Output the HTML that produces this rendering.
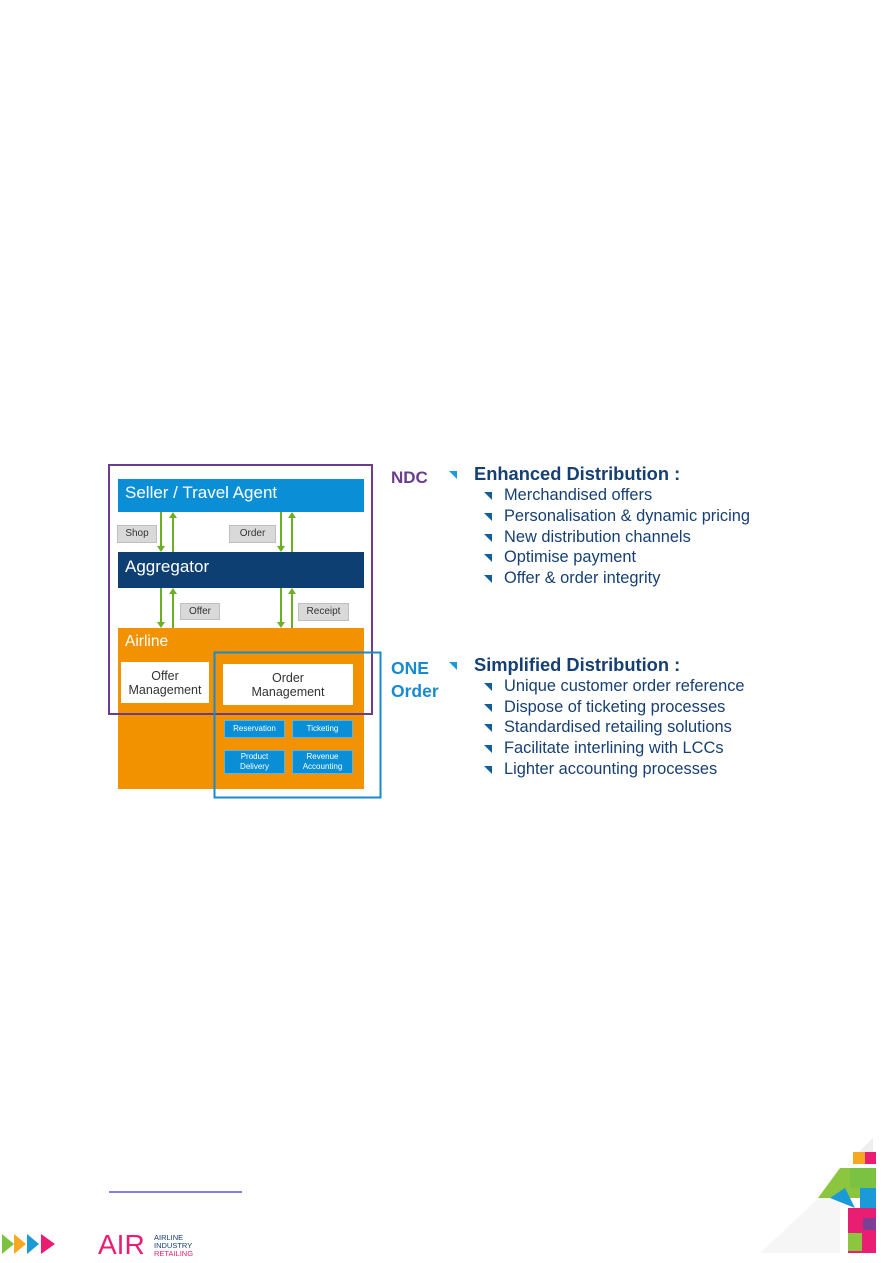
<!DOCTYPE html>
<html><head><meta charset="utf-8"><style>
body{margin:0;width:893px;height:1263px;background:#fff;position:relative;overflow:hidden;font-family:"Liberation Sans",Arial,sans-serif}
.a{position:absolute}
.bar{position:absolute;color:#fff;font-size:17px;box-sizing:border-box;padding-left:7px}
.lbl{position:absolute;background:#d9d9d9;border:1px solid #bfbfbf;font-size:10px;color:#333;text-align:center;box-sizing:border-box;line-height:15px}
.wb{position:absolute;background:#fff;color:#333;font-size:12.5px;text-align:center;display:flex;align-items:center;justify-content:center;line-height:14px}
.sb{position:absolute;background:#0a8ed5;color:#fff;font-size:8px;text-align:center;display:flex;align-items:center;justify-content:center;line-height:10px;border:1px solid #5fb3e3;box-sizing:border-box}
.t{position:absolute;color:#163f73;font-size:16.4px;white-space:nowrap}
.h{font-weight:bold;font-size:18.3px}
.tri{position:absolute;width:0;height:0;border-top:8px solid #0f5f9e;border-left:8px solid transparent}
.tri.l{border-top-color:#1a9ad6}
</style></head><body>
<div class="bar" style="left:118px;top:479px;width:246px;height:33px;background:#0a8fd6;line-height:28px">Seller / Travel Agent</div>
<div class="bar" style="left:118px;top:552px;width:246px;height:36px;background:#0d3f73;line-height:30px">Aggregator</div>
<div class="bar" style="left:118px;top:628px;width:246px;height:161px;background:#f39200;line-height:28px;font-size:15.5px">Airline</div>
<div class="wb" style="left:121px;top:662px;width:88px;height:41px">Offer<br>Management</div>
<div class="wb" style="left:223px;top:664px;width:130px;height:41px">Order<br>Management</div>
<div class="sb" style="left:224px;top:720px;width:61px;height:18px">Reservation</div>
<div class="sb" style="left:292px;top:720px;width:61px;height:18px">Ticketing</div>
<div class="sb" style="left:224px;top:750px;width:61px;height:24px">Product<br>Delivery</div>
<div class="sb" style="left:292px;top:750px;width:61px;height:24px">Revenue<br>Accounting</div>
<div class="lbl" style="left:117px;top:525px;width:40px;height:18px">Shop</div>
<div class="lbl" style="left:229px;top:525px;width:47px;height:18px">Order</div>
<div class="lbl" style="left:180px;top:603px;width:40px;height:17px">Offer</div>
<div class="lbl" style="left:298px;top:603px;width:51px;height:18px">Receipt</div>
<svg class="a" style="left:0;top:0" width="893" height="1263">
<g stroke="#6ab023" stroke-width="2" fill="#6ab023">
<line x1="161" y1="512" x2="161" y2="547"/><polygon points="157,546 165,546 161,552" stroke="none"/>
<line x1="173" y1="517" x2="173" y2="552"/><polygon points="169,518 177,518 173,512" stroke="none"/>
<line x1="281" y1="512" x2="281" y2="547"/><polygon points="277,546 285,546 281,552" stroke="none"/>
<line x1="292" y1="517" x2="292" y2="552"/><polygon points="288,518 296,518 292,512" stroke="none"/>
<line x1="161" y1="588" x2="161" y2="623"/><polygon points="157,622 165,622 161,628" stroke="none"/>
<line x1="173" y1="593" x2="173" y2="628"/><polygon points="169,594 177,594 173,588" stroke="none"/>
<line x1="281" y1="588" x2="281" y2="623"/><polygon points="277,622 285,622 281,628" stroke="none"/>
<line x1="292" y1="593" x2="292" y2="628"/><polygon points="288,594 296,594 292,588" stroke="none"/>
</g>
<rect x="109" y="465" width="263" height="249" fill="none" stroke="#6a3d8f" stroke-width="2"/>
<rect x="214.5" y="652.5" width="166" height="145" fill="none" stroke="#1a8ad0" stroke-width="2"/>
<line x1="109" y1="1192" x2="242" y2="1192" stroke="#0000cc" stroke-width="1"/>
</svg>
<div class="t" style="left:391px;top:468px;color:#6a3d8f;font-weight:bold;font-size:17px">NDC</div>
<div class="t" style="left:391px;top:657px;color:#1a8ad0;font-weight:bold;font-size:17.5px;line-height:23px">ONE<br>Order</div>
<div class="tri l" style="left:449px;top:471px"></div>
<div class="tri l" style="left:449px;top:662px"></div>
<div class="t h" style="left:474px;top:463px">Enhanced Distribution :</div>
<div class="t h" style="left:474px;top:654px">Simplified Distribution :</div>
<div class="tri" style="left:484px;top:492px"></div><div class="t" style="left:504px;top:486px">Merchandised offers</div>
<div class="tri" style="left:484px;top:513px"></div><div class="t" style="left:504px;top:507px">Personalisation &amp; dynamic pricing</div>
<div class="tri" style="left:484px;top:534px"></div><div class="t" style="left:504px;top:528px">New distribution channels</div>
<div class="tri" style="left:484px;top:554px"></div><div class="t" style="left:504px;top:548px">Optimise payment</div>
<div class="tri" style="left:484px;top:575px"></div><div class="t" style="left:504px;top:569px">Offer &amp; order integrity</div>
<div class="tri" style="left:484px;top:683px"></div><div class="t" style="left:504px;top:677px">Unique customer order reference</div>
<div class="tri" style="left:484px;top:704px"></div><div class="t" style="left:504px;top:698px">Dispose of ticketing processes</div>
<div class="tri" style="left:484px;top:724px"></div><div class="t" style="left:504px;top:718px">Standardised retailing solutions</div>
<div class="tri" style="left:484px;top:745px"></div><div class="t" style="left:504px;top:739px">Facilitate interlining with LCCs</div>
<div class="tri" style="left:484px;top:766px"></div><div class="t" style="left:504px;top:760px">Lighter accounting processes</div>
<svg class="a" style="left:0;top:1230px" width="100" height="30">
<polygon points="2,4 14,14 2,24" fill="#7cc242"/>
<polygon points="14,4 26,14 14,24" fill="#f7a823"/>
<polygon points="27,4 39,14 27,24" fill="#1a9ad6"/>
<polygon points="41,4 55,14 41,24" fill="#e91e73"/>
</svg>
<div class="t" style="left:98px;top:1230px;color:#e91e73;font-size:28px;line-height:30px">AIR</div>
<div class="t" style="left:154px;top:1234px;font-size:7.5px;line-height:8px;color:#163f73">AIRLINE<br>INDUSTRY<br><span style="color:#e91e73">RETAILING</span></div>
<svg class="a" style="left:760px;top:1138px" width="133" height="120">
<polygon points="0,115 80,40 80,115" fill="#f6f6f6"/>
<polygon points="113,0 113,14 99,14" fill="#eee"/>
<rect x="93" y="14" width="12" height="12" fill="#f7a823"/><rect x="105" y="14" width="11" height="12" fill="#e91e73"/>
<polygon points="58,60 80,30 100,30 100,60" fill="#8cc63f"/>
<rect x="90" y="30" width="26" height="20" fill="#7cc242"/>
<polygon points="70,60 85,50 95,70" fill="#1a9ad6"/>
<rect x="100" y="50" width="16" height="20" fill="#1a9ad6"/>
<rect x="88" y="70" width="28" height="45" fill="#e91e73"/>
<rect x="103" y="80" width="13" height="12" fill="#7b3f98"/>
<rect x="88" y="95" width="14" height="18" fill="#8cc63f"/>
</svg>
</body></html>
